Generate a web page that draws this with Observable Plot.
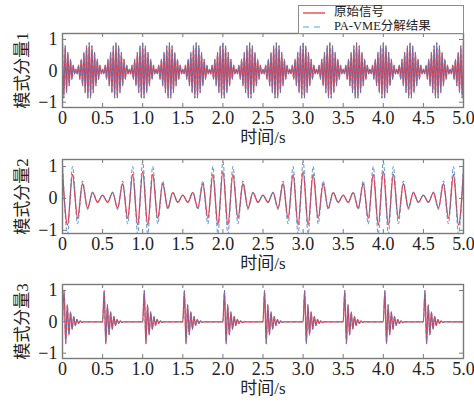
<!DOCTYPE html>
<html>
<head>
<meta charset="utf-8">
<script src="https://cdn.jsdelivr.net/npm/d3@7"></script>
<script src="https://cdn.jsdelivr.net/npm/@observablehq/plot@0.6"></script>
<style>
  html, body { margin: 0; padding: 0; background: #fff; }
  #chart { position: relative; width: 474px; height: 405px; overflow: hidden; }
  #chart > svg { position: absolute; left: 0; }
  .legend {
    position: absolute; left: 298px; top: 5px; width: 166px; height: 29px;
    background: #fff; border: 1px solid #8c8c8c; box-sizing: border-box;
    font-family: "Liberation Serif", "Noto Sans CJK SC", serif; font-size: 12.5px; color: #222;
  }
  .legend .row { position: absolute; left: 4px; height: 13px; line-height: 13px; white-space: nowrap; }
  .legend svg { vertical-align: middle; margin-right: 9px; }
</style>
</head>
<body>
<div id="chart"></div>
<script>
// Time axis ticks and labels shared by all three panels
const xTicks = [0, 0.5, 1.0, 1.5, 2.0, 2.5, 3.0, 3.5, 4.0, 4.5, 5.0];
const xTickLabels = ["0", "0.5", "1.0", "1.5", "2.0", "2.5", "3.0", "3.5", "4.0", "4.5", "5.0"];
const yTicks = [-1, 0, 1];
const xTitle = "时间/s";
const panelTitles = ["模式分量1", "模式分量2", "模式分量3"];
const seriesNames = ["原始信号", "PA-VME分解结果"];

// Mode 1: successive extrema of the 30 Hz carrier, one value every 1/60 s
const mode1Step = 1 / 60;
const mode1Original = [
  0.9,-0.87,0.8,-0.7,0.59,-0.48,0.37,-0.27,0.18,-0.1,0.05,-0.1,0.18,-0.27,0.37,-0.48,0.59,-0.7,0.8,-0.87,
  0.9,-0.87,0.8,-0.7,0.59,-0.48,0.37,-0.27,0.18,-0.1,0.05,-0.1,0.18,-0.27,0.37,-0.48,0.59,-0.7,0.8,-0.87,
  0.9,-0.87,0.8,-0.7,0.59,-0.48,0.37,-0.27,0.18,-0.1,0.05,-0.1,0.18,-0.27,0.37,-0.48,0.59,-0.7,0.8,-0.87,
  0.9,-0.87,0.8,-0.7,0.59,-0.48,0.37,-0.27,0.18,-0.1,0.05,-0.1,0.18,-0.27,0.37,-0.48,0.59,-0.7,0.8,-0.87,
  0.9,-0.87,0.8,-0.7,0.59,-0.48,0.37,-0.27,0.18,-0.1,0.05,-0.1,0.18,-0.27,0.37,-0.48,0.59,-0.7,0.8,-0.87,
  0.9,-0.87,0.8,-0.7,0.59,-0.48,0.37,-0.27,0.18,-0.1,0.05,-0.1,0.18,-0.27,0.37,-0.48,0.59,-0.7,0.8,-0.87,
  0.9,-0.87,0.8,-0.7,0.59,-0.48,0.37,-0.27,0.18,-0.1,0.05,-0.1,0.18,-0.27,0.37,-0.48,0.59,-0.7,0.8,-0.87,
  0.9,-0.87,0.8,-0.7,0.59,-0.48,0.37,-0.27,0.18,-0.1,0.05,-0.1,0.18,-0.27,0.37,-0.48,0.59,-0.7,0.8,-0.87,
  0.9,-0.87,0.8,-0.7,0.59,-0.48,0.37,-0.27,0.18,-0.1,0.05,-0.1,0.18,-0.27,0.37,-0.48,0.59,-0.7,0.8,-0.87,
  0.9,-0.87,0.8,-0.7,0.59,-0.48,0.37,-0.27,0.18,-0.1,0.05,-0.1,0.18,-0.27,0.37,-0.48,0.59,-0.7,0.8,-0.87,
  0.9,-0.87,0.8,-0.7,0.59,-0.48,0.37,-0.27,0.18,-0.1,0.05,-0.1,0.18,-0.27,0.37,-0.48,0.59,-0.7,0.8,-0.87,
  0.9,-0.87,0.8,-0.7,0.59,-0.48,0.37,-0.27,0.18,-0.1,0.05,-0.1,0.18,-0.27,0.37,-0.48,0.59,-0.7,0.8,-0.87,
  0.9,-0.87,0.8,-0.7,0.59,-0.48,0.37,-0.27,0.18,-0.1,0.05,-0.1,0.18,-0.27,0.37,-0.48,0.59,-0.7,0.8,-0.87,
  0.9,-0.87,0.8,-0.7,0.59,-0.48,0.37,-0.27,0.18,-0.1,0.05,-0.1,0.18,-0.27,0.37,-0.48,0.59,-0.7,0.8,-0.87,
  0.9,-0.87,0.8,-0.7,0.59,-0.48,0.37,-0.27,0.18,-0.1,0.05,-0.1,0.18,-0.27,0.37,-0.48,0.59,-0.7,0.8,-0.87,
  0.9
];
// The decomposed mode 1 lies on top of the original
const mode1Decomposed = mode1Original;

// Mode 2: extrema of the 8 Hz carrier, one value every 1/16 s
const mode2Step = 1 / 16;
const mode2Original = [
  0.85,-0.83,0.75,-0.62,0.46,-0.3,0.18,-0.12,0.1,-0.12,0.18,-0.3,0.46,-0.62,0.75,-0.83,
  0.85,-0.83,0.75,-0.62,0.46,-0.3,0.18,-0.12,0.1,-0.12,0.18,-0.3,0.46,-0.62,0.75,-0.83,
  0.85,-0.83,0.75,-0.62,0.46,-0.3,0.18,-0.12,0.1,-0.12,0.18,-0.3,0.46,-0.62,0.75,-0.83,
  0.85,-0.83,0.75,-0.62,0.46,-0.3,0.18,-0.12,0.1,-0.12,0.18,-0.3,0.46,-0.62,0.75,-0.83,
  0.85,-0.83,0.75,-0.62,0.46,-0.3,0.18,-0.12,0.1,-0.12,0.18,-0.3,0.46,-0.62,0.75,-0.83,
  0.85
];
const mode2Decomposed = [
  1.15,-1.12,1.0,-0.8,0.55,-0.35,0.2,-0.13,0.1,-0.13,0.2,-0.35,0.55,-0.8,1.0,-1.12,
  1.15,-1.12,1.0,-0.8,0.55,-0.35,0.2,-0.13,0.1,-0.13,0.2,-0.35,0.55,-0.8,1.0,-1.12,
  1.15,-1.12,1.0,-0.8,0.55,-0.35,0.2,-0.13,0.1,-0.13,0.2,-0.35,0.55,-0.8,1.0,-1.12,
  1.15,-1.12,1.0,-0.8,0.55,-0.35,0.2,-0.13,0.1,-0.13,0.2,-0.35,0.55,-0.8,1.0,-1.12,
  1.15,-1.12,1.0,-0.8,0.55,-0.35,0.2,-0.13,0.1,-0.13,0.2,-0.35,0.55,-0.8,1.0,-1.12,
  1.15
];

// Mode 3: damped ringing after each impact (every 0.5 s), one value every 0.02 s
const mode3Step = 0.02;
const mode3Original = [
  0,1.0,-0.7,0.55,-0.42,0.32,-0.24,0.17,-0.12,0.08,-0.05,0.03,-0.02,0,0,0,0,0,0,0,0,0,0,0,0,
  0,1.0,-0.7,0.55,-0.42,0.32,-0.24,0.17,-0.12,0.08,-0.05,0.03,-0.02,0,0,0,0,0,0,0,0,0,0,0,0,
  0,1.0,-0.7,0.55,-0.42,0.32,-0.24,0.17,-0.12,0.08,-0.05,0.03,-0.02,0,0,0,0,0,0,0,0,0,0,0,0,
  0,1.0,-0.7,0.55,-0.42,0.32,-0.24,0.17,-0.12,0.08,-0.05,0.03,-0.02,0,0,0,0,0,0,0,0,0,0,0,0,
  0,1.0,-0.7,0.55,-0.42,0.32,-0.24,0.17,-0.12,0.08,-0.05,0.03,-0.02,0,0,0,0,0,0,0,0,0,0,0,0,
  0,1.0,-0.7,0.55,-0.42,0.32,-0.24,0.17,-0.12,0.08,-0.05,0.03,-0.02,0,0,0,0,0,0,0,0,0,0,0,0,
  0,1.0,-0.7,0.55,-0.42,0.32,-0.24,0.17,-0.12,0.08,-0.05,0.03,-0.02,0,0,0,0,0,0,0,0,0,0,0,0,
  0,1.0,-0.7,0.55,-0.42,0.32,-0.24,0.17,-0.12,0.08,-0.05,0.03,-0.02,0,0,0,0,0,0,0,0,0,0,0,0,
  0,1.0,-0.7,0.55,-0.42,0.32,-0.24,0.17,-0.12,0.08,-0.05,0.03,-0.02,0,0,0,0,0,0,0,0,0,0,0,0,
  0,1.0,-0.7,0.55,-0.42,0.32,-0.24,0.17,-0.12,0.08,-0.05,0.03,-0.02,0,0,0,0,0,0,0,0,0,0,0,0,
  0
];
const mode3Decomposed = mode3Original;

const RED = "#f2323c";
const BLUE = "#4a86c8";
const LEGEND_BLUE = "#8cc4e6";
const FRAME = "#7a7a7a";
const FONT = "'Liberation Serif', 'Times New Roman', 'Noto Sans CJK SC', serif";

const toRows = (values, step) => values.map((v, i) => ({t: i * step, v}));

function panel({original, decomposed, step, title, yDomain, top, marginBottom}) {
  const width = 474, marginLeft = 62, marginRight = 11, marginTop = 33;
  const frameH = 74;
  const frameW = width - marginLeft - marginRight;
  const svg = Plot.plot({
    width, height: marginTop + frameH + marginBottom,
    marginLeft, marginRight, marginTop, marginBottom,
    x: {domain: [0, 5]},
    y: {domain: yDomain},
    style: {background: "transparent", fontFamily: FONT, fontSize: "18px", color: "#222", overflow: "visible"},
    marks: [
      Plot.line(toRows(original, step), {x: "t", y: "v", stroke: RED, strokeWidth: 1.3, curve: "monotone-x", clip: true}),
      Plot.line(toRows(decomposed, step), {x: "t", y: "v", stroke: BLUE, strokeWidth: 0.9, strokeDasharray: "3,3", curve: "monotone-x", clip: true}),
      Plot.frame({stroke: FRAME, strokeWidth: 1.4}),
      Plot.tickX(xTicks, {x: d => d, insetBottom: frameH - 4, stroke: FRAME}),
      Plot.tickX(xTicks, {x: d => d, insetTop: frameH - 4, stroke: FRAME}),
      Plot.tickY(yTicks, {y: d => d, insetRight: frameW - 4, stroke: FRAME}),
      Plot.tickY(yTicks, {y: d => d, insetLeft: frameW - 4, stroke: FRAME}),
      Plot.axisX(xTicks, {tickSize: 0, tickPadding: 4, tickFormat: (d, i) => xTickLabels[i], label: null, fontSize: 18}),
      Plot.axisY(yTicks, {tickSize: 0, tickPadding: 5, label: null, fontSize: 18}),
      Plot.text([xTitle], {text: d => d, frameAnchor: "bottom", lineAnchor: "middle", textAnchor: "middle", dy: 30, fontSize: 17, fill: "#222"}),
      Plot.text([title], {text: d => d, frameAnchor: "left", lineAnchor: "middle", textAnchor: "middle", dx: -40, rotate: -90, fontSize: 17, fill: "#222"})
    ]
  });
  svg.style.top = top + "px";
  return svg;
}

const chart = document.getElementById("chart");
chart.append(
  panel({original: mode1Original, decomposed: mode1Decomposed, step: mode1Step, title: panelTitles[0], yDomain: [-1.17, 1.19], top: 0, marginBottom: 42}),
  panel({original: mode2Original, decomposed: mode2Decomposed, step: mode2Step, title: panelTitles[1], yDomain: [-1.1, 1.22], top: 126, marginBottom: 42}),
  panel({original: mode3Original, decomposed: mode3Decomposed, step: mode3Step, title: panelTitles[2], yDomain: [-1.17, 1.19], top: 251, marginBottom: 48})
);

// Legend box in the upper right corner
const legend = document.createElement("div");
legend.className = "legend";
legend.innerHTML = `
  <div class="row" style="top:0px"><svg width="22" height="6"><line x1="0" x2="22" y1="3" y2="3" stroke="${RED}" stroke-width="1.3"/></svg>${seriesNames[0]}</div>
  <div class="row" style="top:14px"><svg width="22" height="6"><line x1="0" x2="22" y1="3" y2="3" stroke="${LEGEND_BLUE}" stroke-width="1.5" stroke-dasharray="6,5"/></svg>${seriesNames[1]}</div>`;
chart.append(legend);
</script>
</body>
</html>
